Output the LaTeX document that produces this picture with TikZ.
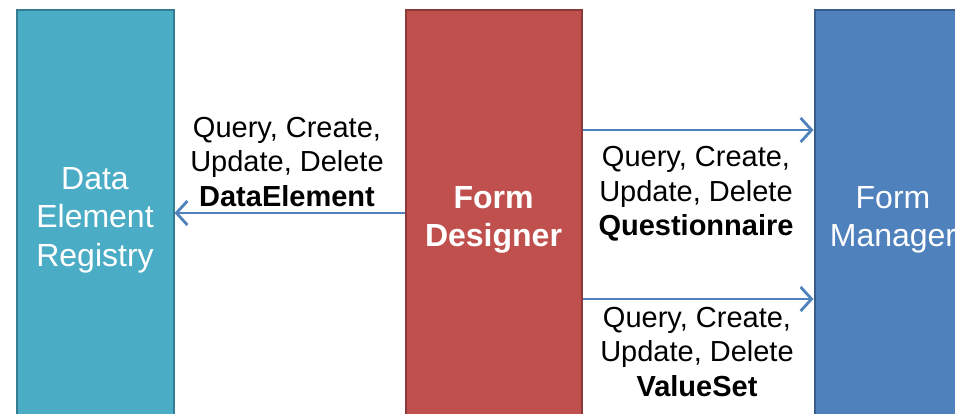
\documentclass[tikz,border=0pt]{standalone}
\usepackage{fontspec}
\setmainfont{Liberation Sans}
\usetikzlibrary{arrows.meta}
\definecolor{tealfill}{HTML}{4BACC6}
\definecolor{tealline}{HTML}{357D91}
\definecolor{redfill}{HTML}{C0504D}
\definecolor{redline}{HTML}{8C3836}
\definecolor{bluefill}{HTML}{4F81BD}
\definecolor{blueline}{HTML}{385D8A}
\tikzset{
  system/.style={rectangle, line width=2pt, minimum height=420pt, inner sep=0pt,
    text=white, align=center, font=\fontsize{32}{38.5}\selectfont},
  flow/.style={draw=bluefill, line width=2.8pt, -{Straight Barb[length=11pt,width=24pt,line width=2.8pt]}},
  opslabel/.style={align=center, font=\fontsize{29}{34.5}\selectfont}
}

\begin{document}
\begin{tikzpicture}[x=1pt,y=-1pt]
        \useasboundingbox (0,0) rectangle (955,414);
        \clip (0,0) rectangle (955,414);
        \fill[white] (0,0) rectangle (955,414);

        \node[system, fill=tealfill, draw=tealline, minimum width=157pt] (registry) at (95,220) {Data\\Element\\Registry};
        \node[system, fill=redfill, draw=redline, minimum width=176pt] (designer) at (493.5,220) {\bfseries Form\\\bfseries Designer};
        \node[system, fill=bluefill, draw=blueline, minimum width=157pt] (manager) at (893,220) {Form\\Manager};

        \draw[flow] ([yshift=7pt]designer.west) -- ([yshift=7pt]registry.east);
        \draw[flow] ([yshift=90pt]designer.east) -- ([yshift=90pt]manager.west);
        \draw[flow] ([yshift=-79pt]designer.east) -- ([yshift=-79pt]manager.west);

        \node[opslabel] (elementops) at (287,162) {Query, Create,\\Update, Delete\\\textbf{DataElement}};
        \node[opslabel] (questionops) at (696,194) {Query, Create,\\Update, Delete\\\textbf{Questionnaire}};
        \node[opslabel] (valuesetops) at (697,352) {Query, Create,\\Update, Delete\\\textbf{ValueSet}};
    \end{tikzpicture}
\end{document}
